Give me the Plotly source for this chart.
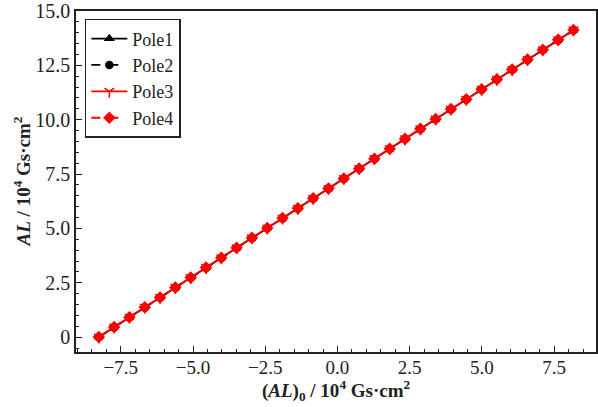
import plotly.graph_objects as go

al0 = [-8.26, -7.73, -7.20, -6.67, -6.14, -5.61, -5.08, -4.55, -4.02, -3.49,
       -2.96, -2.43, -1.90, -1.37, -0.84, -0.31, 0.22, 0.75, 1.28, 1.81,
       2.34, 2.87, 3.40, 3.93, 4.46, 4.99, 5.52, 6.05, 6.58, 7.11, 7.64, 8.17]
pole1 = [0.00, 0.46, 0.91, 1.37, 1.82, 2.28, 2.73, 3.19, 3.64, 4.10,
         4.56, 5.01, 5.47, 5.92, 6.38, 6.83, 7.29, 7.75, 8.20, 8.66,
         9.11, 9.57, 10.02, 10.48, 10.93, 11.39, 11.85, 12.30, 12.76, 13.21, 13.67, 14.12]
pole2 = [0.00, 0.45, 0.91, 1.36, 1.82, 2.27, 2.73, 3.18, 3.64, 4.09,
         4.55, 5.01, 5.46, 5.92, 6.37, 6.83, 7.28, 7.74, 8.20, 8.65,
         9.11, 9.56, 10.02, 10.47, 10.93, 11.38, 11.84, 12.30, 12.75, 13.21, 13.66, 14.12]
pole3 = [0.01, 0.47, 0.92, 1.38, 1.83, 2.29, 2.74, 3.20, 3.65, 4.11,
         4.57, 5.02, 5.48, 5.93, 6.39, 6.84, 7.30, 7.76, 8.21, 8.67,
         9.12, 9.58, 10.03, 10.49, 10.94, 11.40, 11.86, 12.31, 12.77, 13.22, 13.68, 14.13]
pole4 = [0.01, 0.47, 0.92, 1.38, 1.83, 2.29, 2.74, 3.20, 3.65, 4.11,
         4.57, 5.02, 5.48, 5.93, 6.39, 6.84, 7.30, 7.76, 8.21, 8.67,
         9.12, 9.58, 10.03, 10.49, 10.94, 11.40, 11.86, 12.31, 12.77, 13.22, 13.68, 14.13]

names = ["Pole1", "Pole2", "Pole3", "Pole4"]
ys = [pole1, pole2, pole3, pole4]
colors = ["black", "black", "red", "red"]
dashes = ["solid", "dash", "solid", "dash"]
symbols = ["triangle-up", "circle", "y-down", "diamond"]
sizes = [7, 7, 8, 8]

y_tickvals = [0, 2.5, 5, 7.5, 10, 12.5, 15]
y_ticktext = ["0", "2.5", "5.0", "7.5", "10.0", "12.5", "15.0"]
x_title = "<b>(<i>AL</i>)<sub>0</sub> / 10<sup>4</sup> Gs·cm<sup>2</sup></b>"
y_title = "<b><i>AL</i> / 10<sup>4</sup> Gs·cm<sup>2</sup></b>"

fig = go.Figure()
for n, y, c, d, s, sz in zip(names, ys, colors, dashes, symbols, sizes):
    fig.add_trace(go.Scatter(
        x=al0, y=y, name=n, mode="lines+markers",
        line=dict(color=c, width=1.8, dash=d),
        marker=dict(symbol=s, size=sz, color=c, line=dict(color=c, width=1.5)),
    ))

font = "Liberation Serif"
axis_common = dict(
    showline=True, linecolor="#222", linewidth=1.5, mirror=True,
    ticks="inside", ticklen=6, tickwidth=1.2, tickcolor="#222",
    showgrid=False, zeroline=False, automargin=False,
    ticklabeloverflow="allow",
    minor=dict(ticks="inside", ticklen=3.5, tickwidth=1, tickcolor="#222", dtick=0.5),
)

fig.update_layout(
    width=598, height=407,
    margin=dict(l=76, r=2, t=11, b=55),
    paper_bgcolor="white", plot_bgcolor="white",
    font=dict(family=font, color="#222"),
    xaxis=dict(range=[-9.05, 8.95], dtick=2.5, tick0=0, tickformat=".1f",
               ticklabelstandoff=-3,
               tickfont=dict(family=font, size=19, color="#222"),
               **axis_common),
    yaxis=dict(range=[-0.68, 15.0], tickvals=y_tickvals, ticktext=y_ticktext,
               tickfont=dict(family=font, size=20, color="#222"),
               **axis_common),
    legend=dict(x=0.017, y=0.977, xanchor="left", yanchor="top",
                bordercolor="#222", borderwidth=1.5, bgcolor="white",
                font=dict(family=font, size=18, color="#222"),
                tracegroupgap=0, itemwidth=36),
    showlegend=True,
    annotations=[
        dict(text=x_title, xref="paper", yref="paper", x=0.5, y=-0.113,
             xanchor="center", yanchor="middle", showarrow=False,
             font=dict(family=font, size=19, color="#222")),
        dict(text=y_title, xref="paper", yref="paper", x=-0.104, y=0.5,
             xanchor="center", yanchor="middle", textangle=-90, showarrow=False,
             font=dict(family=font, size=19, color="#222")),
    ],
)

fig.write_html("out.html", config={"displayModeBar": False},
               post_script="document.body.style.margin='0';")
